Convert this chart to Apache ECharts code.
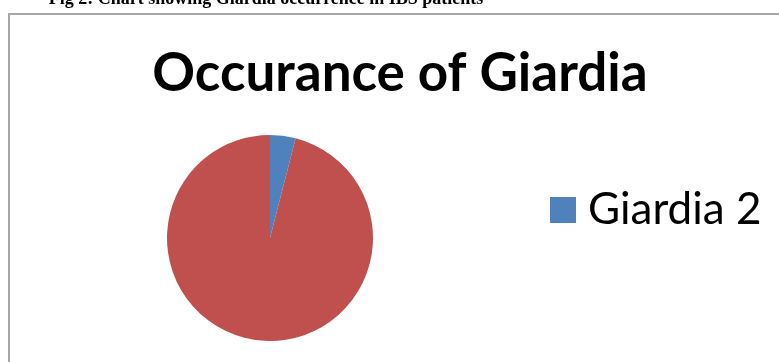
<!DOCTYPE html>
<html>
<head>
<meta charset="utf-8">
<script src="https://cdn.jsdelivr.net/npm/echarts@6/dist/echarts.min.js"></script>
<style>
html,body{margin:0;padding:0;background:#fff;}
#c{width:779px;height:362px;}
</style>
</head>
<body>
<div id="c"></div>
<script>
var categories = ['Giardia', 'Negative'];
var values = [2, 48];
var colors = ['#4f81bd', '#c0504d'];
var captionText = 'Fig 2: Chart showing Giardia occurrence in IBS patients';
var titleText = 'Occurance of Giardia';

var chart = echarts.init(document.getElementById('c'), null, {renderer: 'canvas'});
var pieData = categories.map(function (c, i) {
  return {name: c, value: values[i], itemStyle: {color: colors[i]}};
});
chart.setOption({
  animation: false,
  graphic: [
    {type: 'rect', shape: {x: 9, y: 14, width: 800, height: 400},
     style: {fill: '#fff', stroke: '#a6a6a6', lineWidth: 2}, z: -1},
    {type: 'text', x: 266, y: 8,
     style: {text: captionText, fontFamily: 'Liberation Serif', fontWeight: 'bold', fontSize: 18,
             fill: '#000', textAlign: 'center', textVerticalAlign: 'bottom'}}
  ],
  title: {
    text: titleText, left: 395, top: 42, textAlign: 'center',
    textStyle: {fontFamily: 'Lato', fontWeight: 'bold', fontSize: 53, color: '#000'}
  },
  legend: {
    data: [categories[0]], left: 545, top: 183, orient: 'vertical',
    itemWidth: 26, itemHeight: 26, icon: 'rect', itemGap: 15,
    formatter: function (n) { return n + ' ' + values[categories.indexOf(n)]; },
    textStyle: {fontFamily: 'Lato', fontSize: 44, color: '#000', padding: [0, 0, 0, 7]}
  },
  series: [{
    type: 'pie', center: [270, 238], radius: 103, startAngle: 90, clockwise: true,
    label: {show: false}, labelLine: {show: false},
    itemStyle: {borderWidth: 0}, data: pieData, silent: true
  }]
});
</script>
</body>
</html>
